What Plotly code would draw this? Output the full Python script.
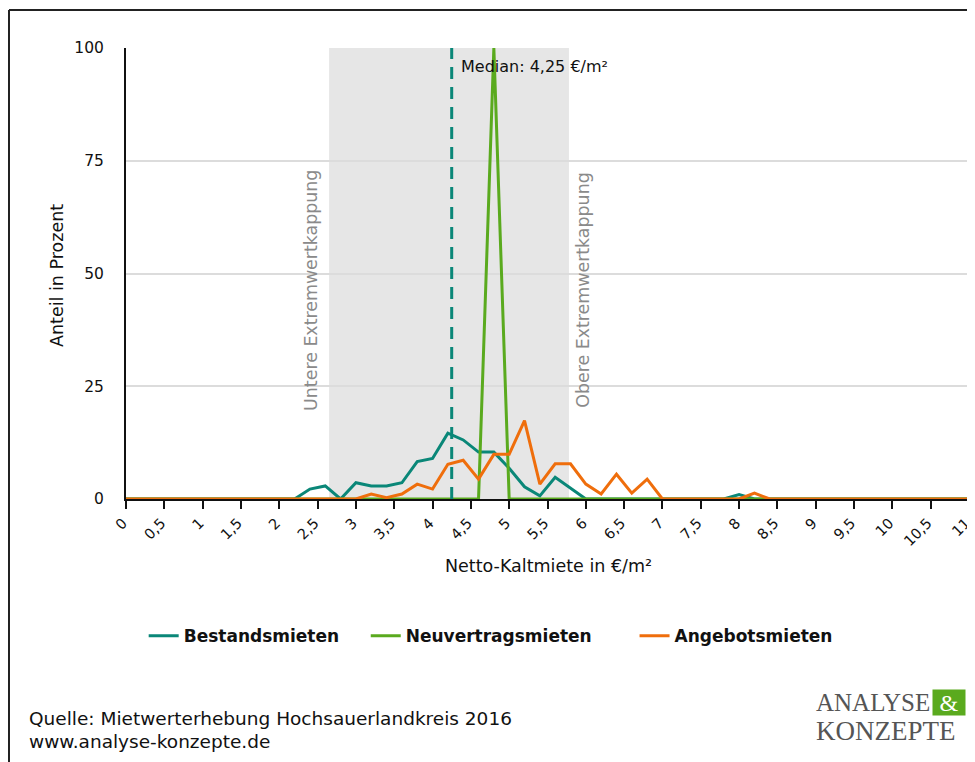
import plotly.graph_objects as go

# ---- data ----
rent = [0.0, 0.2, 0.4, 0.6, 0.8, 1.0, 1.2, 1.4, 1.6, 1.8, 2.0, 2.2, 2.4, 2.6, 2.8, 3.0,
        3.2, 3.4, 3.6, 3.8, 4.0, 4.2, 4.4, 4.6, 4.8, 5.0, 5.2, 5.4, 5.6, 5.8, 6.0,
        6.2, 6.4, 6.6, 6.8, 7.0, 7.2, 7.4, 7.6, 7.8, 8.0, 8.2, 8.4, 8.6, 8.8, 9.0,
        9.2, 9.4, 9.6, 9.8, 10.0, 10.2, 10.4, 10.6, 10.8, 11.0]

bestand = [0, 0, 0, 0, 0, 0, 0, 0, 0, 0, 0, 0, 2.2, 2.9, 0, 3.6,
           2.9, 2.9, 3.6, 8.3, 9.0, 14.6, 13.1, 10.4, 10.4, 6.8, 2.7, 0.7, 4.8, 2.4, 0,
           0, 0, 0, 0, 0, 0, 0, 0, 0, 1.0, 0, 0, 0, 0, 0,
           0, 0, 0, 0, 0, 0, 0, 0, 0, 0]

neuvertrag = [0, 0, 0, 0, 0, 0, 0, 0, 0, 0, 0, 0, 0, 0, 0, 0,
              0, 0, 0, 0, 0, 0, 0, 0, 100, 0, 0, 0, 0, 0, 0,
              0, 0, 0, 0, 0, 0, 0, 0, 0, 0, 0, 0, 0, 0, 0,
              0, 0, 0, 0, 0, 0, 0, 0, 0, 0]

angebot = [0, 0, 0, 0, 0, 0, 0, 0, 0, 0, 0, 0, 0, 0, 0, 0,
           1.1, 0.3, 1.1, 3.3, 2.2, 7.7, 8.6, 4.4, 9.9, 9.9, 17.4, 3.3, 7.8, 7.8, 3.3,
           1.1, 5.5, 1.3, 4.4, 0, 0, 0, 0, 0, 0, 1.3, 0, 0, 0, 0,
           0, 0, 0, 0, 0, 0, 0, 0, 0, 0]

series_names = ["Bestandsmieten", "Neuvertragsmieten", "Angebotsmieten"]
series_colors = ["#0a8778", "#5aaa1e", "#ef6e0c"]

x_tickvals = [0, 0.5, 1, 1.5, 2, 2.5, 3, 3.5, 4, 4.5, 5, 5.5, 6, 6.5, 7, 7.5, 8, 8.5,
              9, 9.5, 10, 10.5, 11]
x_ticktext = ["0", "0,5", "1", "1,5", "2", "2,5", "3", "3,5", "4", "4,5", "5", "5,5",
              "6", "6,5", "7", "7,5", "8", "8,5", "9", "9,5", "10", "10,5", "11"]
y_tickvals = [0, 25, 50, 75, 100]

median_value = 4.25
lower_cap = 2.65
upper_cap = 5.78

FONT = "DejaVu Sans"
label_pad = ["\u00a0" * 4, "\u00a0" * 7, ""]

fig = go.Figure()
for name, vals, col, pad in zip(series_names, [bestand, neuvertrag, angebot], series_colors, label_pad):
    fig.add_trace(go.Scatter(x=rent, y=vals, mode="lines", name="<b>" + name + "</b>" + pad,
                             line=dict(color=col, width=3)))

# band
fig.add_shape(type="rect", xref="x", yref="y", x0=lower_cap, x1=upper_cap, y0=0, y1=100,
              fillcolor="#e6e6e6", line=dict(width=0), layer="below")
# median line
fig.add_shape(type="line", xref="x", yref="y", x0=median_value, x1=median_value, y0=0, y1=100,
              line=dict(color="#0a8778", width=3, dash="12px,8px"), layer="above")

# frame
fig.add_shape(type="line", xref="paper", yref="paper", x0=-0.1388, x1=1.02, y0=1.0843, y1=1.0843,
              line=dict(color="#222", width=2))
fig.add_shape(type="line", xref="paper", yref="paper", x0=-0.1388, x1=-0.1388, y0=1.0843, y1=-0.6,
              line=dict(color="#222", width=2))

ann = []
ann.append(dict(x=median_value + 0.1, y=96, xref="x", yref="y", text="Median: 4,25 €/m²",
                showarrow=False, xanchor="left", yanchor="middle",
                font=dict(family=FONT, size=16, color="#111")))
ann.append(dict(x=2.41, y=46.3, xref="x", yref="y", text="Untere Extremwertkappung",
                showarrow=False, textangle=-90, font=dict(family=FONT, size=17.4, color="#8a8a8a")))
ann.append(dict(x=5.97, y=46.3, xref="x", yref="y", text="Obere Extremwertkappung",
                showarrow=False, textangle=-90, font=dict(family=FONT, size=17.4, color="#8a8a8a")))
ann.append(dict(x=-0.0961, y=0.4967, xref="paper", yref="paper", text="Anteil in Prozent",
                showarrow=False, textangle=-90, font=dict(family=FONT, size=17.5, color="#111")))
ann.append(dict(x=0.5006, y=-0.175, xref="paper", yref="paper", text="Netto-Kaltmiete in €/m²",
                showarrow=False, font=dict(family=FONT, size=17.5, color="#111")))
ann.append(dict(x=-0.1174, y=-0.4856, xref="paper", yref="paper",
                text="Quelle: Mietwerterhebung Hochsauerlandkreis 2016",
                showarrow=False, xanchor="left", yanchor="middle",
                font=dict(family=FONT, size=18.5, color="#111")))
ann.append(dict(x=-0.1174, y=-0.5388, xref="paper", yref="paper",
                text="www.analyse-konzepte.de",
                showarrow=False, xanchor="left", yanchor="middle",
                font=dict(family=FONT, size=18.5, color="#111")))
# logo
ann.append(dict(x=0.8162, y=-0.4523, xref="paper", yref="paper", text="ANALYSE",
                showarrow=False, xanchor="left", yanchor="middle",
                font=dict(family="Liberation Serif", size=25, color="#555")))
ann.append(dict(x=0.976, y=-0.4512, xref="paper", yref="paper", text="&",
                showarrow=False, xanchor="center", yanchor="middle", bgcolor="#5aaa1e",
                width=30, height=23, borderpad=1,
                font=dict(family="Liberation Serif", size=24, color="white")))
ann.append(dict(x=0.8162, y=-0.5144, xref="paper", yref="paper", text="KONZEPTE",
                showarrow=False, xanchor="left", yanchor="middle",
                font=dict(family="Liberation Serif", size=27, color="#555")))

fig.update_layout(
    width=967, height=754,
    margin=dict(l=118, r=6, t=40, b=263),
    paper_bgcolor="white", plot_bgcolor="white",
    font=dict(family=FONT, size=15, color="#111"),
    showlegend=True,
    legend=dict(orientation="h", x=0.4326, y=-0.304, xanchor="center", yanchor="middle",
                font=dict(family=FONT, size=17, color="#111"), itemwidth=30),
    annotations=ann,
    xaxis=dict(range=[0, 11], tickvals=x_tickvals, ticktext=x_ticktext, tickangle=-45,
               showgrid=False, zeroline=False, showline=True, linecolor="#111", linewidth=2,
               ticks="outside", ticklen=8, tickwidth=2, tickcolor="#111",
               ticklabeloverflow="allow", automargin=False, ticklabelshift=-3,
               tickfont=dict(family=FONT, size=14.5, color="#111")),
    yaxis=dict(range=[0, 100], tickvals=y_tickvals, showgrid=True, gridcolor="#dcdcdc",
               gridwidth=2, zeroline=False, showline=True, linecolor="#111", linewidth=2,
               ticks="", ticklabelstandoff=17, automargin=False,
               tickfont=dict(family=FONT, size=15.5, color="#111")),
)

fig.write_html("out.html")
